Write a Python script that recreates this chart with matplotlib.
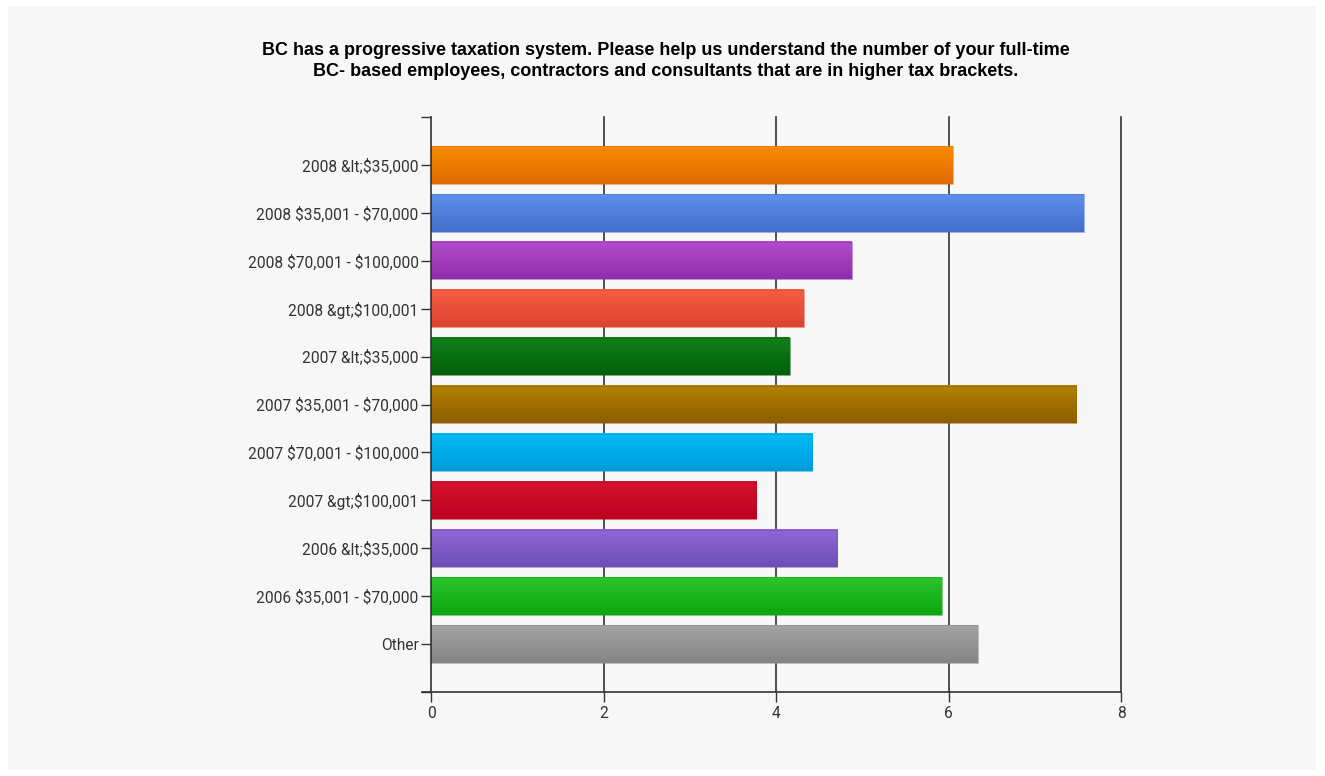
import numpy as np
import matplotlib
matplotlib.use("Agg")
import matplotlib.pyplot as plt
from matplotlib.patches import Rectangle
from matplotlib.colors import to_rgb

categories = [
    "2008 &lt;$35,000",
    "2008 $35,001 - $70,000",
    "2008 $70,001 - $100,000",
    "2008 &gt;$100,001",
    "2007 &lt;$35,000",
    "2007 $35,001 - $70,000",
    "2007 $70,001 - $100,000",
    "2007 &gt;$100,001",
    "2006 &lt;$35,000",
    "2006 $35,001 - $70,000",
    "Other",
]
values = [6.05, 7.57, 4.88, 4.32, 4.16, 7.48, 4.42, 3.77, 4.71, 5.92, 6.34]

# top / bottom colours of the gradient on each bar
top_colors = ["#f88c00", "#5f90e8", "#b44ccc", "#f45e44", "#12801a", "#b48200",
              "#00bcf4", "#d4142e", "#9068d6", "#2cc42c", "#a4a4a4"]
bottom_colors = ["#e06c00", "#436ecc", "#8e2eac", "#dc4430", "#006008", "#8c5e00",
                 "#009cdc", "#bc0020", "#6e4eb6", "#0ea40e", "#848484"]

title = ("BC has a progressive taxation system. Please help us understand the number of your full-time\n"
         "BC- based employees, contractors and consultants that are in higher tax brackets.")

W, H = 1325, 776
fig = plt.figure(figsize=(W / 100, H / 100), dpi=100)
fig.patch.set_facecolor("white")
fig.patches.append(Rectangle((8 / W, 1 - 770 / H), (1316 - 8) / W, (770 - 6) / H,
                             transform=fig.transFigure, facecolor="#f7f7f7",
                             edgecolor="none", zorder=-10))

ax = fig.add_axes([431 / W, 1 - 692 / H, (1121 - 431) / W, (692 - 117) / H])
ax.set_facecolor("none")

bar_h = 0.78
for i, (v, c1, c2) in enumerate(zip(values, top_colors, bottom_colors)):
    a, b = np.array(to_rgb(c1)), np.array(to_rgb(c2))
    t = np.linspace(0, 1, 64)[:, None]
    grad = (a * (1 - t) + b * t)[:, None, :]
    ax.imshow(grad, extent=(0, v, i + bar_h / 2, i - bar_h / 2), origin="upper",
              aspect="auto", interpolation="bilinear", zorder=3)
    ax.add_patch(Rectangle((0, i - bar_h / 2), v, bar_h, fill=False,
                           edgecolor=c2, linewidth=0.6, alpha=0.6, zorder=4))

for x in [2, 4, 6, 8]:
    ax.plot([x, x], [-1, 11], color="#333333", linewidth=1.2, zorder=1, clip_on=False)

ax.set_xlim(0, 8)
ax.set_ylim(11, -1)

ax.set_yticks(range(-1, 12))
ax.set_yticklabels([""] + [c.replace("$", r"\$") for c in categories] + [""])
ax.set_xticks([0, 2, 4, 6, 8])
ax.set_xticklabels(["0", "2", "4", "6", "8"])
ax.tick_params(axis="y", length=7, width=1, color="#333333", labelcolor="#333333",
               labelsize=11.2, pad=2)
ax.tick_params(axis="x", length=7, width=1, color="#333333", labelcolor="#333333",
               labelsize=11.2, pad=3)
for lab in ax.get_xticklabels() + ax.get_yticklabels():
    lab.set_family("Roboto")

for s in ["top", "right", "bottom"]:
    ax.spines[s].set_visible(False)
ax.spines["left"].set_color("#333333")
ax.spines["left"].set_linewidth(1.2)
ax.spines["left"].set_zorder(5)

# bottom axis line, running a little past the y axis
ax.plot([-0.1, 8], [11, 11], color="#333333", linewidth=1.2, clip_on=False, zorder=5)

fig.text(666 / W, 1 - 61 / H, title, ha="center", va="center", fontsize=13,
         fontweight="bold", family="Liberation Sans", linespacing=1.32)

fig.savefig("out.png", dpi=100, facecolor=fig.get_facecolor())
